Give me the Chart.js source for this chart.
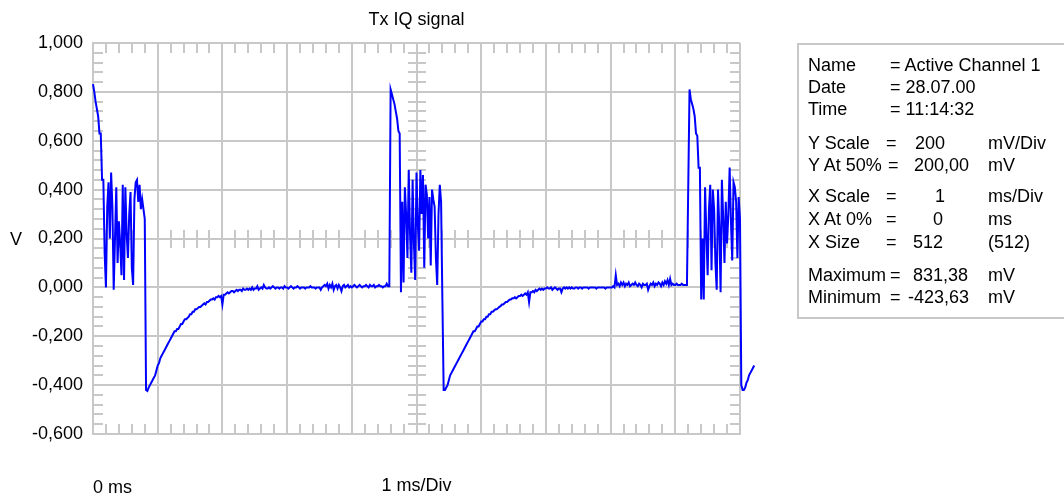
<!DOCTYPE html>
<html>
<head>
<meta charset="utf-8">
<title>Tx IQ signal</title>
<script src="https://cdn.jsdelivr.net/npm/chart.js@4.4.1/dist/chart.umd.min.js"></script>
<style>
body { margin:0; width:1064px; height:497px; overflow:hidden; background:#fff; position:relative;
       font-family:'Liberation Sans', Arial, sans-serif; font-size:18px; color:#000; }
#chart { position:absolute; left:0; top:0; }
.t { position:absolute; line-height:22px; white-space:nowrap; }
#info { position:absolute; left:797px; top:43px; width:290px; height:276px; border:2px solid #c8c8c8; box-sizing:border-box; }
</style>
</head>
<body>
<canvas id="chart" width="1064" height="497"></canvas>
<div class="t" style="left:0;width:833px;text-align:center;top:8px">Tx IQ signal</div>
<div class="t" style="left:10px;top:228px">V</div>
<div class="t" style="left:93px;top:476px">0 ms</div>

<div id="info"></div>
<div class="t" style="left:808px;top:54px">Name</div><div class="t" style="left:890px;top:54px">= Active Channel 1</div>
<div class="t" style="left:808px;top:76px">Date</div><div class="t" style="left:890px;top:76px">= 28.07.00</div>
<div class="t" style="left:808px;top:98px">Time</div><div class="t" style="left:890px;top:98px">= 11:14:32</div>

<div class="t" style="left:808px;top:132px">Y Scale</div><div class="t" style="left:886px;top:132px">=</div>
<div class="t" style="left:915px;top:132px">200</div><div class="t" style="left:988px;top:132px">mV/Div</div>
<div class="t" style="left:808px;top:154px">Y At 50%</div><div class="t" style="left:888px;top:154px">=</div>
<div class="t" style="left:914px;top:154px">200,00</div><div class="t" style="left:988px;top:154px">mV</div>

<div class="t" style="left:808px;top:185px">X Scale</div><div class="t" style="left:886px;top:185px">=</div>
<div class="t" style="left:935px;top:185px">1</div><div class="t" style="left:988px;top:185px">ms/Div</div>
<div class="t" style="left:808px;top:208px">X At 0%</div><div class="t" style="left:886px;top:208px">=</div>
<div class="t" style="left:933px;top:208px">0</div><div class="t" style="left:988px;top:208px">ms</div>
<div class="t" style="left:808px;top:231px">X Size</div><div class="t" style="left:886px;top:231px">=</div>
<div class="t" style="left:913px;top:231px">512</div><div class="t" style="left:988px;top:231px">(512)</div>

<div class="t" style="left:808px;top:264px">Maximum</div><div class="t" style="left:890px;top:264px">=</div>
<div class="t" style="left:913px;top:264px">831,38</div><div class="t" style="left:988px;top:264px">mV</div>
<div class="t" style="left:808px;top:286px">Minimum</div><div class="t" style="left:890px;top:286px">=</div>
<div class="t" style="left:908px;top:286px">-423,63</div><div class="t" style="left:988px;top:286px">mV</div>

<script>
// Tx IQ trace in volts, one value per sample, 50 samples per 1 ms division
var traceV = [
  0.8314, 0.80, 0.76, 0.73, 0.70, 0.63, 0.63, 0.44, 0.44, 0.14,
  0.00, 0.33, 0.43, 0.20, 0.47, 0.33, -0.01, 0.20, 0.41, 0.10,
  0.27, 0.18, 0.05, 0.42, 0.03, 0.41, 0.22, 0.12, 0.30, 0.39,
  0.08, 0.01, 0.36, 0.43, 0.44, 0.35, 0.42, 0.32, 0.36, 0.32,
  0.28, -0.42, -0.4236, -0.41, -0.40, -0.39, -0.38, -0.37, -0.36, -0.34,
  -0.32, -0.31, -0.29, -0.28, -0.27, -0.26, -0.25, -0.24, -0.23, -0.22,
  -0.21, -0.20, -0.19, -0.18, -0.18, -0.17, -0.17, -0.16, -0.15, -0.15,
  -0.14, -0.13, -0.13, -0.125, -0.12, -0.11, -0.11, -0.10, -0.10, -0.09,
  -0.09, -0.085, -0.08, -0.08, -0.075, -0.07, -0.065, -0.07, -0.06, -0.06,
  -0.055, -0.05, -0.05, -0.045, -0.05, -0.04, -0.04, -0.035, -0.04, -0.035,
  -0.07, -0.03, -0.03, -0.025, -0.02, -0.025, -0.02, -0.015, -0.015, -0.02,
  -0.015, -0.01, -0.015, -0.01, -0.01, -0.015, -0.005, -0.01, -0.01, -0.005,
  -0.01, -0.005, -0.01, 0.00, -0.01, -0.005, -0.005, 0.005, -0.01, -0.005,
  0.00, -0.005, 0.01, 0.00, -0.005, -0.005, 0.00, -0.005, 0.00, 0.005,
  0.00, -0.005, 0.00, 0.00, -0.005, 0.00, 0.00, -0.005, 0.005, 0.00,
  0.00, -0.005, 0.00, 0.005, 0.00, -0.005, 0.00, 0.00, 0.005, 0.00,
  -0.005, 0.00, 0.00, 0.00, -0.005, 0.00, 0.00, 0.00, 0.005, 0.00,
  0.00, 0.00, -0.005, 0.00, 0.00, 0.00, -0.01, 0.00, 0.005, 0.01,
  0.005, 0.015, -0.005, 0.01, 0.00, 0.015, -0.01, 0.005, 0.01, -0.005,
  0.01, 0.00, -0.015, 0.005, 0.01, 0.00, 0.005, 0.01, 0.00, 0.005,
  0.00, 0.005, 0.01, 0.005, 0.00, 0.005, 0.01, 0.005, 0.00, 0.005,
  0.005, 0.01, 0.005, 0.00, 0.01, 0.005, 0.005, 0.01, 0.00, 0.005,
  0.005, 0.01, 0.005, 0.005, 0.00, 0.005, 0.005, 0.015, 0.005, 0.005,
  0.81, 0.79, 0.77, 0.75, 0.72, 0.69, 0.64, 0.63, -0.02, 0.35,
  0.02, 0.41, 0.30, 0.12, 0.48, 0.22, 0.06, 0.44, 0.18, 0.03,
  0.47, 0.26, 0.15, 0.48, 0.30, 0.46, 0.08, 0.42, 0.38, 0.20,
  0.37, 0.09, 0.40, 0.36, 0.33, 0.12, 0.01, 0.30, 0.42, 0.35,
  -0.05, -0.42, -0.42, -0.41, -0.40, -0.38, -0.36, -0.35, -0.34, -0.33,
  -0.32, -0.31, -0.30, -0.29, -0.28, -0.27, -0.26, -0.25, -0.24, -0.23,
  -0.22, -0.21, -0.20, -0.19, -0.18, -0.18, -0.17, -0.16, -0.16, -0.15,
  -0.14, -0.14, -0.13, -0.13, -0.12, -0.12, -0.11, -0.11, -0.10, -0.10,
  -0.095, -0.09, -0.09, -0.085, -0.08, -0.077, -0.07, -0.07, -0.065, -0.06,
  -0.06, -0.055, -0.05, -0.05, -0.045, -0.045, -0.04, -0.045, -0.04, -0.035,
  -0.035, -0.03, -0.035, -0.03, -0.025, -0.03, -0.02, -0.06, -0.02, -0.02,
  -0.015, -0.02, -0.01, -0.015, -0.01, -0.005, -0.01, -0.005, -0.01, -0.005,
  -0.005, 0.00, -0.005, -0.005, 0.00, -0.01, -0.005, 0.00, -0.005, -0.01,
  -0.005, -0.005, -0.02, -0.005, 0.00, -0.005, 0.00, -0.005, 0.00, -0.005,
  0.00, -0.005, -0.005, 0.00, 0.00, -0.005, 0.00, 0.00, -0.005, 0.00,
  0.00, 0.00, 0.00, -0.005, 0.00, 0.00, 0.00, 0.00, 0.00, -0.005,
  0.00, 0.00, 0.00, 0.00, 0.00, 0.00, -0.005, 0.00, 0.00, 0.00,
  0.00, 0.00, 0.005, 0.00, 0.05, 0.01, 0.015, 0.005, 0.02, 0.01,
  0.02, 0.005, 0.015, 0.01, 0.02, 0.005, 0.01, 0.015, 0.01, 0.02,
  0.01, 0.005, 0.015, 0.01, 0.00, 0.015, 0.01, 0.01, 0.015, -0.01,
  0.005, 0.015, 0.01, 0.02, 0.005, 0.015, 0.01, 0.02, 0.015, 0.005,
  0.02, 0.01, 0.025, 0.015, 0.03, 0.01, 0.035, 0.01, 0.015, 0.01,
  0.01, 0.015, 0.01, 0.01, 0.01, 0.015, 0.01, 0.01, 0.01, 0.01,
  0.41, 0.81, 0.77, 0.75, 0.73, 0.70, 0.63, 0.62, 0.49, 0.49,
  -0.05, 0.20, -0.05, 0.41, 0.22, 0.05, 0.32, 0.42, 0.07, 0.40,
  0.32, 0.10, -0.01, 0.40, 0.25, -0.02, 0.44, 0.29, 0.10, 0.35,
  0.18, 0.30, 0.49, 0.27, 0.11, 0.43, 0.41, 0.35, 0.12, 0.37,
  0.28, -0.40, -0.42, -0.42, -0.41, -0.39, -0.38, -0.36, -0.35, -0.34,
  -0.33, -0.32
];
var sampleNo = traceV.map(function(v, i){ return i; });

var samplesPerDiv = 50;
var xDivs = 10;
var yMin = -0.6, yMax = 1.0, yStep = 0.2;
var yCenter = 0.2;

var grey = '#c8c8c8';
var font = { family: "'Liberation Sans', Arial, sans-serif", size: 18 };

// small tick marks along the frame and the centre cross, 5 per division
var minorTicks = {
	id: 'minorTicks',
	beforeDatasetsDraw: function(chart) {
		var ctx = chart.ctx, a = chart.chartArea, x = chart.scales.x, y = chart.scales.y;
		var xEnd = samplesPerDiv * xDivs;
		var xMid = Math.round(x.getPixelForValue(xEnd / 2));
		var yMid = Math.round(y.getPixelForValue(yCenter));
		ctx.save();
		ctx.strokeStyle = grey;
		ctx.lineWidth = 2;
		ctx.beginPath();
		for (var s = 0; s <= xEnd; s += samplesPerDiv / 5) {
			if (s % samplesPerDiv === 0) continue;
			var px = Math.round(x.getPixelForValue(s));
			ctx.moveTo(px, a.top); ctx.lineTo(px, a.top + 10);
			ctx.moveTo(px, a.bottom); ctx.lineTo(px, a.bottom - 10);
			ctx.moveTo(px, yMid - 9); ctx.lineTo(px, yMid + 9);
		}
		var nY = Math.round((yMax - yMin) / (yStep / 5));
		for (var k = 0; k <= nY; k++) {
			if (k % 5 === 0) continue;
			var py = Math.round(y.getPixelForValue(yMin + k * yStep / 5));
			ctx.moveTo(a.left, py); ctx.lineTo(a.left + 10, py);
			ctx.moveTo(a.right, py); ctx.lineTo(a.right - 10, py);
			ctx.moveTo(xMid - 9, py); ctx.lineTo(xMid + 9, py);
		}
		ctx.stroke();
		ctx.restore();
	}
};

new Chart(document.getElementById('chart'), {
	type: 'line',
	data: {
		labels: sampleNo,
		datasets: [{
			data: traceV,
			borderColor: '#0000ff',
			borderWidth: 2,
			pointRadius: 0,
			tension: 0,
			fill: false,
			clip: false
		}]
	},
	options: {
		responsive: false,
		animation: false,
		devicePixelRatio: 1,
		layout: { padding: { top: 43, right: 324, left: 0, bottom: 0 } },
		plugins: { legend: { display: false }, tooltip: { enabled: false }, title: { display: false } },
		scales: {
			x: {
				type: 'linear',
				afterDataLimits: function(s) { s.min = 0; s.max = samplesPerDiv * xDivs; },
				afterFit: function(s) { s.height = 63; },
				ticks: { display: false, stepSize: samplesPerDiv },
				grid: { color: grey, lineWidth: 2, drawTicks: false },
				border: { color: grey, width: 2 },
				title: { display: true, text: '1 ms/Div', color: '#000', font: font, padding: 0 }
			},
			y: {
				min: yMin,
				max: yMax,
				afterFit: function(s) { s.width = 93; },
				ticks: {
					stepSize: yStep,
					padding: 10,
					color: '#000',
					font: font,
					callback: function(v) { return v.toFixed(3).replace('.', ','); }
				},
				grid: { color: grey, lineWidth: 2, drawTicks: false },
				border: { color: grey, width: 2 }
			}
		}
	},
	plugins: [minorTicks]
});
</script>
</body>
</html>
